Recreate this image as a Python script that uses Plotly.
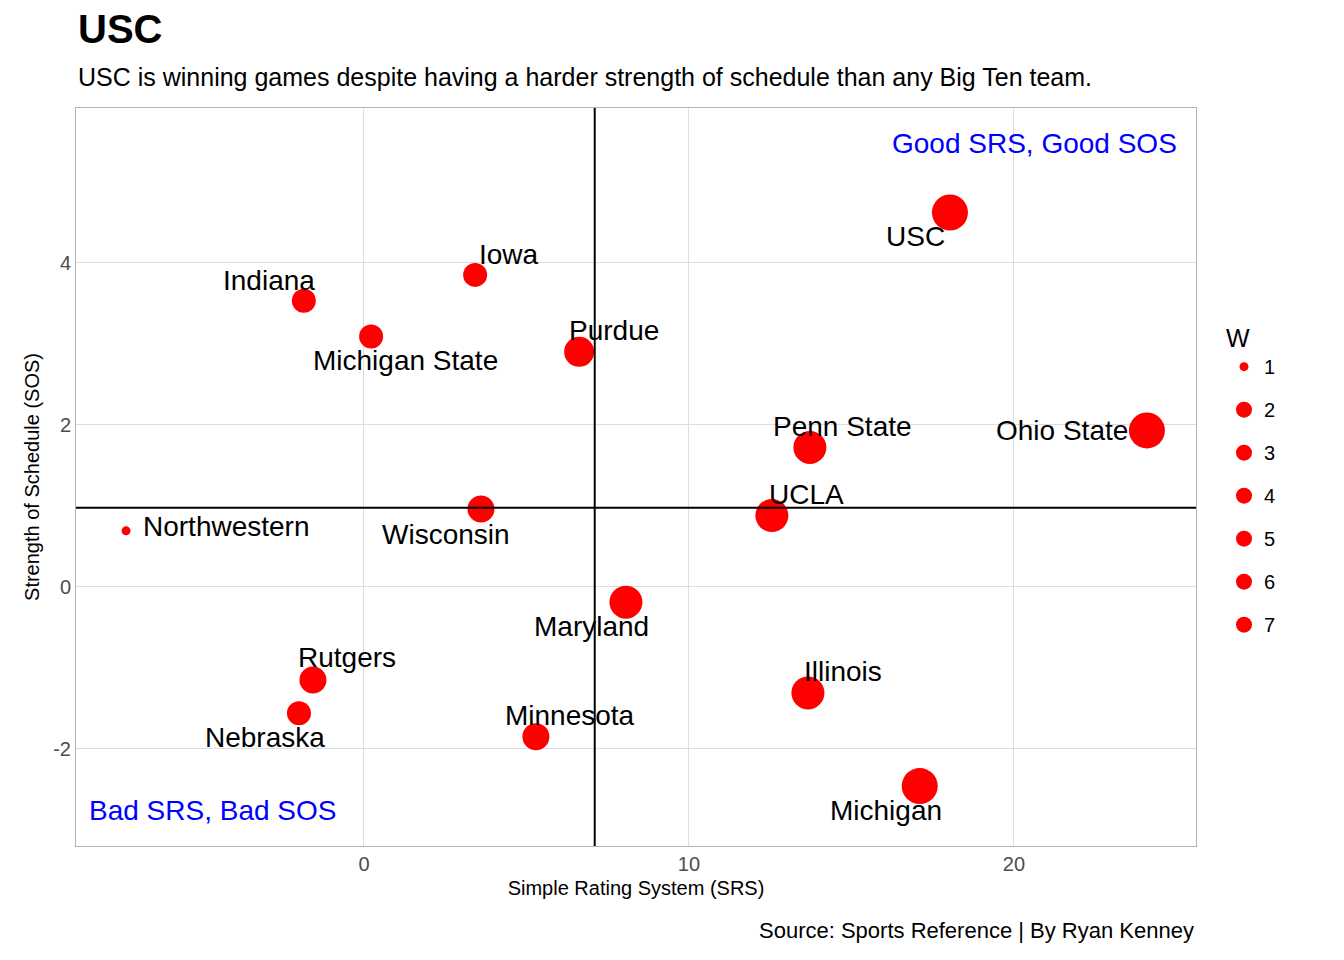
import plotly.graph_objects as go

teams = ["USC", "Indiana", "Iowa", "Michigan State", "Purdue", "Penn State", "Ohio State",
         "UCLA", "Northwestern", "Wisconsin", "Maryland", "Rutgers", "Nebraska",
         "Minnesota", "Illinois", "Michigan"]
srs = [18.03, -1.85, 3.42, 0.22, 6.62, 13.72, 24.09, 12.55, -7.32, 3.6, 8.06, -1.57, -2.0, 5.29, 13.66, 17.1]
sos = [4.62, 3.53, 3.85, 3.09, 2.9, 1.72, 1.93, 0.88, 0.69, 0.96, -0.19, -1.15, -1.56, -1.85, -1.31, -2.46]
wins = [7, 3, 3, 3, 5, 6, 7, 6, 1, 4, 6, 4, 3, 4, 6, 7]
srs_mean = 7.1
sos_mean = 0.975

# label offsets in pixels (dx, dy up)
offsets = {
    "USC": (-34, -24), "Indiana": (-35, 20), "Iowa": (34, 20), "Michigan State": (34, -24),
    "Purdue": (35, 21), "Penn State": (33, 21), "Ohio State": (-85, 0), "UCLA": (35, 21),
    "Northwestern": (100, 4), "Wisconsin": (-35, -25), "Maryland": (-34, -24),
    "Rutgers": (34, 22), "Nebraska": (-34, -24), "Minnesota": (34, 21),
    "Illinois": (35, 21), "Michigan": (-34, -24),
}
sizes = {1: 9, 2: 20, 3: 24, 4: 27, 5: 30, 6: 33, 7: 36}

fig = go.Figure()
fig.add_vline(x=srs_mean, line_color="black", line_width=2)
fig.add_hline(y=sos_mean, line_color="black", line_width=2)

fig.add_trace(go.Scatter(
    x=srs, y=sos, mode="markers", showlegend=False, hoverinfo="text", text=teams,
    marker=dict(color="#ff0000", size=[sizes[w] for w in wins], line_width=0, opacity=1),
))
for w in range(1, 8):
    fig.add_trace(go.Scatter(x=[None], y=[None], mode="markers", name=str(w), legendgroup=str(w),
                             marker=dict(color="#ff0000", size=sizes[w])))

for t, x, y in zip(teams, srs, sos):
    dx, dy = offsets[t]
    fig.add_annotation(x=x, y=y, text=t, showarrow=False, xshift=dx, yshift=dy,
                       font=dict(size=28, color="black"))

fig.add_annotation(x=0.985, y=0.975, xref="paper", yref="paper", text="Good SRS, Good SOS",
                   showarrow=False, xanchor="right", yanchor="top", font=dict(size=28, color="blue"))
fig.add_annotation(x=0.01, y=0.025, xref="paper", yref="paper", text="Bad SRS, Bad SOS",
                   showarrow=False, xanchor="left", yanchor="bottom", font=dict(size=28, color="blue"))
fig.add_annotation(x=1, y=-0.095, xref="paper", yref="paper", yanchor="top", xanchor="right",
                   text="Source: Sports Reference | By Ryan Kenney", showarrow=False,
                   font=dict(size=22, color="black"))
fig.add_annotation(x=0, y=1.02, xref="paper", yref="paper", xanchor="left", yanchor="bottom",
                   text="USC is winning games despite having a harder strength of schedule than any Big Ten team.",
                   showarrow=False, font=dict(size=25, color="black"))
fig.add_annotation(x=0, y=1.075, xref="paper", yref="paper", xanchor="left", yanchor="bottom",
                   text="<b>USC</b>", showarrow=False, font=dict(size=40, color="black"))

fig.update_layout(
    width=1344, height=960,
    margin=dict(l=68, r=156, t=100, b=122),
    paper_bgcolor="white", plot_bgcolor="white",
    font=dict(family="Liberation Sans, Arial", color="black"),
    legend=dict(title=dict(text="W", font=dict(size=25)), x=1.025, y=0.72, yanchor="top",
                font=dict(size=20), itemsizing="trace", tracegroupgap=14),
    xaxis=dict(range=[-8.86, 25.6], tickvals=[0, 10, 20], showgrid=True, gridcolor="#dedede",
               zeroline=False, showline=True, mirror=True, linecolor="#b3b3b3",
               tickfont=dict(size=20, color="#4d4d4d"), ticks="",
               title=dict(text="Simple Rating System (SRS)", font=dict(size=20), standoff=6)),
    yaxis=dict(range=[-3.2, 5.91], tickvals=[-2, 0, 2, 4], ticktext=["-2", "0", "2", "4"],
               showgrid=True, gridcolor="#dedede",
               zeroline=False, showline=True, mirror=True, linecolor="#b3b3b3",
               tickfont=dict(size=20, color="#4d4d4d"), ticks="",
               title=dict(text="Strength of Schedule (SOS)", font=dict(size=20), standoff=8)),
)

fig.write_html("out.html")
